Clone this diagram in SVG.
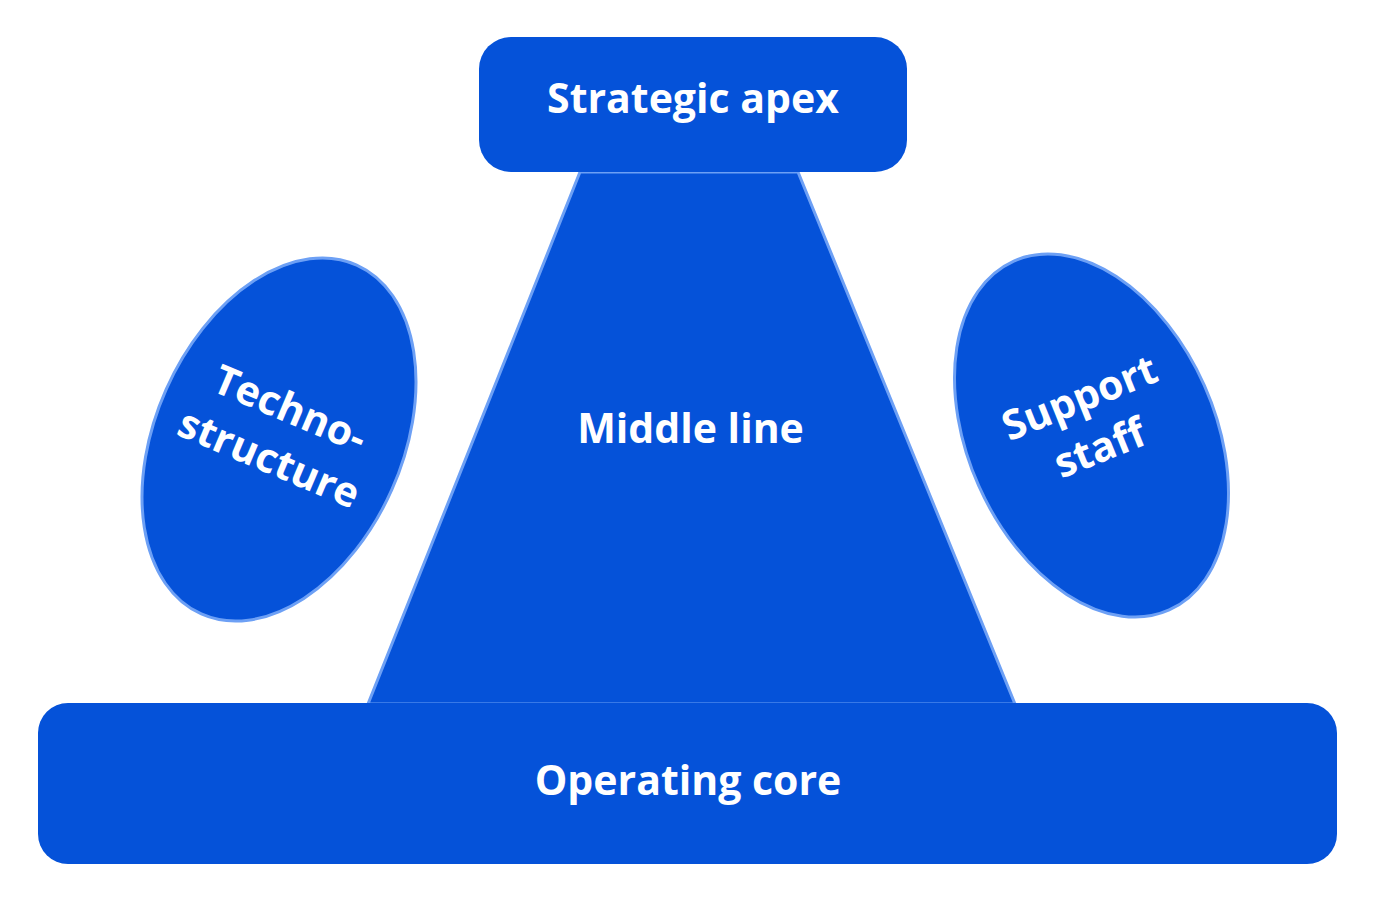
<svg xmlns="http://www.w3.org/2000/svg" width="1375" height="902" viewBox="0 0 1375 902">
<style>
.shape{fill:#0552d9;stroke:#6da0f5;stroke-width:3}
.box{fill:#0552d9;stroke:none}
.lbl{font-family:"Open Sans","Noto Sans","Liberation Sans",sans-serif;font-weight:bold;font-size:41px;fill:#ffffff;text-anchor:middle}
</style>
<rect width="1375" height="902" fill="#ffffff"/>
<g id="middle-line">
<polygon class="shape" points="580,172 798,172 1015,704 368,704"/>
<text class="lbl" x="690.5" y="443">Middle line</text>
</g>
<g id="strategic-apex">
<rect class="box" x="479" y="37" width="428" height="135" rx="32" ry="32"/>
<text class="lbl" x="693" y="113">Strategic apex</text>
</g>
<g id="operating-core">
<rect class="box" x="38" y="703" width="1299" height="161" rx="30" ry="30"/>
<text class="lbl" x="688" y="795">Operating core</text>
</g>
<g id="technostructure">
<ellipse class="shape" cx="279" cy="439.5" rx="123.5" ry="191" transform="rotate(24 279 439.5)"/>
<text class="lbl" transform="translate(274 446.7) rotate(23)"><tspan x="0" y="-27">Techno-</tspan><tspan x="0" y="27">structure</tspan></text>
</g>
<g id="support-staff">
<ellipse class="shape" cx="1091.5" cy="435.5" rx="123.5" ry="191" transform="rotate(-24 1091.5 435.5)"/>
<text class="lbl" transform="translate(1095 436) rotate(-22)"><tspan x="0" y="-27">Support</tspan><tspan x="0" y="27">staff</tspan></text>
</g>
<g id="connectors"/>
</svg>
